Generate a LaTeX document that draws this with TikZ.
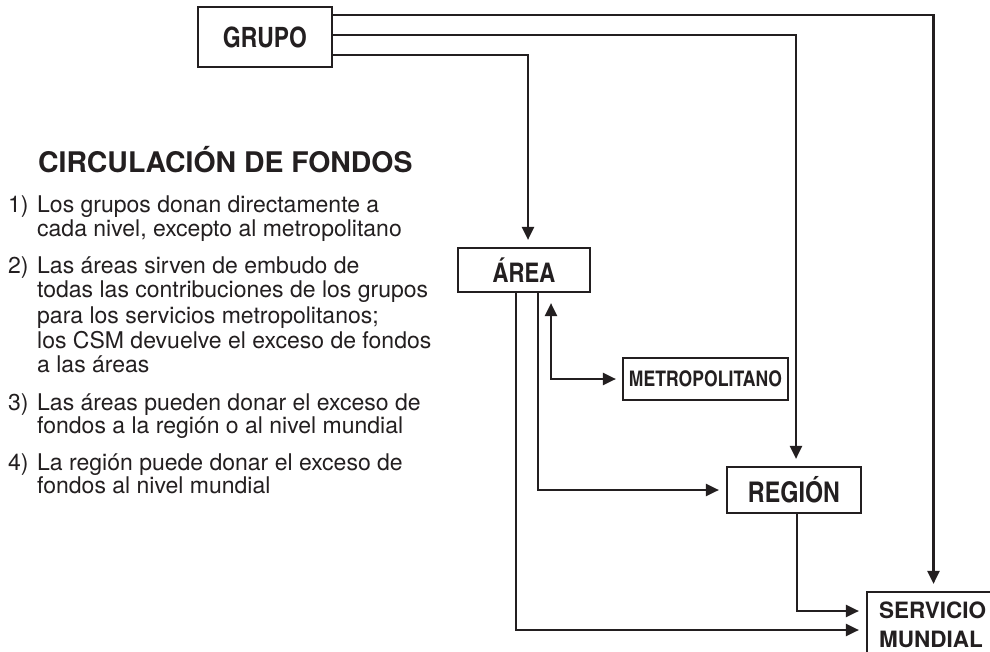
\documentclass[tikz,border=0pt]{standalone}
\usepackage{fontspec}
\setmainfont{texgyreheros}[Extension=.otf, UprightFont=*-regular, BoldFont=*-bold]
\newfontfamily\cnfont{texgyreheroscn}[Extension=.otf, UprightFont=*-regular, BoldFont=*-bold]
\usetikzlibrary{arrows.meta}
\definecolor{ink}{HTML}{231F20}
\newcommand\bodyf{\fontsize{23}{23}\selectfont}
\newcommand\titlef{\bfseries\fontsize{28.4}{28.4}\selectfont}
\begin{document}
\begin{tikzpicture}[x=1pt,y=-1pt,
  box/.style={draw=ink, line width=2.2pt, inner sep=0pt, text=ink},
  txt/.style={anchor=base west, inner sep=0pt, text=ink, font=\bodyf},
  arr/.style={draw=ink, line width=2.2pt, -{Triangle[length=13pt,width=12pt]}, shorten >=7pt}]
\useasboundingbox (0,0) rectangle (990,652);
\clip (0,0) rectangle (990,652);
\fill[white] (0,0) rectangle (990,652);
% boxes
\node[box, minimum width=134pt, minimum height=60pt, font=\cnfont\bfseries\fontsize{28}{28}\selectfont] (grupo) at (265,37) {GRUPO};
\node[box, minimum width=132pt, minimum height=44pt, font=\cnfont\bfseries\fontsize{27}{27}\selectfont] (area) at (524,270) {ÁREA};
\node[box, minimum width=165pt, minimum height=42pt, font=\cnfont\bfseries\fontsize{21.5}{21.5}\selectfont] (metro) at (705.5,379) {METROPOLITANO};
\node[box, minimum width=134pt, minimum height=46pt, font=\cnfont\bfseries\fontsize{28.5}{28.5}\selectfont] (regio) at (794,490) {REGIÓN};
\node[box, minimum width=133pt, minimum height=98pt] (servicio) at (933.5,641) {};
\node[txt, font=\bfseries\fontsize{22.5}{22.5}\selectfont] (s1) at (879,618) {SERVICIO};
\node[txt, font=\bfseries\fontsize{22.5}{22.5}\selectfont] (s2) at (879,647) {MUNDIAL};
% connectors
\draw[arr] ([yshift=22pt]grupo.east) -| (servicio.north);
\draw[arr] ([yshift=2pt]grupo.east) -| ([xshift=2pt]regio.north);
\draw[arr] ([yshift=-18pt]grupo.east) -| ([xshift=4pt]area.north);
\draw[arr] ([xshift=-8pt]area.south) |- ([yshift=11pt]servicio.west);
\draw[arr] ([xshift=14pt]area.south) |- (regio.west);
\draw[arr] ([xshift=3pt]regio.south) |- ([yshift=30pt]servicio.west);
\draw[arr, {Triangle[length=13pt,width=12pt]}-{Triangle[length=13pt,width=12pt]}, shorten <=10pt, shorten >=6pt] ([xshift=27pt]area.south) |- (metro.west);
% legend
\node[txt, font=\titlef] (title) at (38,173) {CIRCULACIÓN DE FONDOS};
\node[txt] (n1) at (8,213) {1)};
\node[txt] (t1) at (37,213) {Los grupos donan directamente a};
\node[txt] (t2) at (37,237) {cada nivel, excepto al metropolitano};
\node[txt] (n2) at (8,273) {2)};
\node[txt] (t3) at (37,273) {Las áreas sirven de embudo de};
\node[txt] (t4) at (37,298) {todas las contribuciones de los grupos};
\node[txt] (t5) at (37,323) {para los servicios metropolitanos;};
\node[txt] (t6) at (37,348) {los CSM devuelve el exceso de fondos};
\node[txt] (t7) at (37,372) {a las áreas};
\node[txt] (n3) at (8,410) {3)};
\node[txt] (t8) at (37,410) {Las áreas pueden donar el exceso de};
\node[txt] (t9) at (37,433) {fondos a la región o al nivel mundial};
\node[txt] (n4) at (8,470) {4)};
\node[txt] (t10) at (37,470) {La región puede donar el exceso de};
\node[txt] (t11) at (37,493) {fondos al nivel mundial};
\end{tikzpicture}
\end{document}
